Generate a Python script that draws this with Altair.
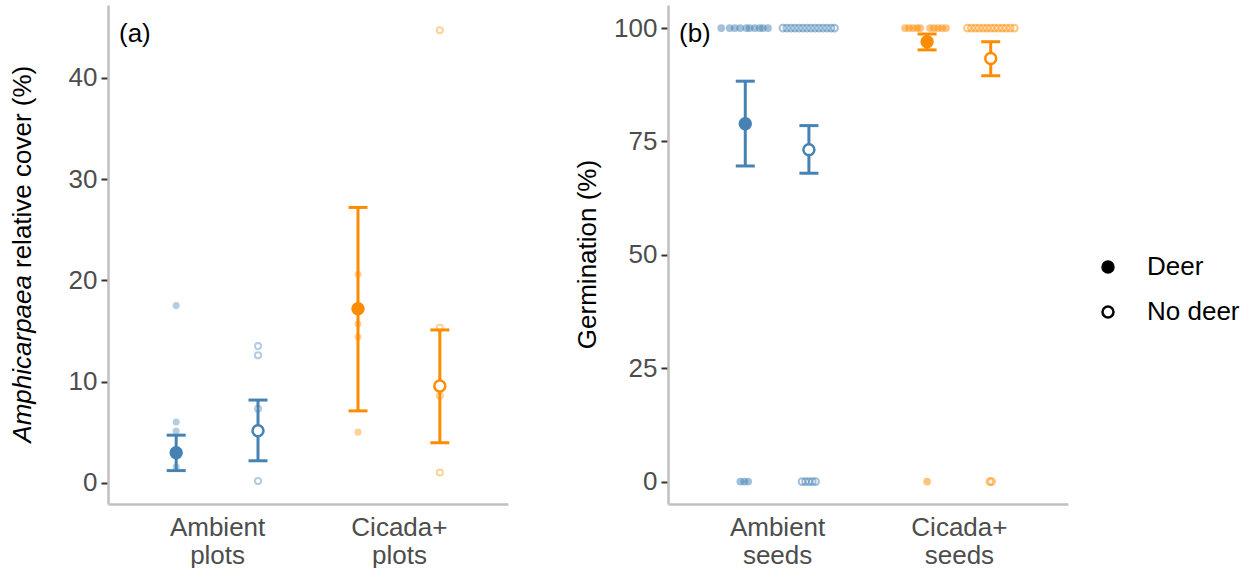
import altair as alt
import pandas as pd

# ---------------- data ----------------
groups = ["Ambient", "Cicada+"]
treatments = ["Deer", "No deer"]
group_colors = {"Ambient": "#4682B4", "Cicada+": "#FF8C00"}

# Panel (a): Amphicarpaea relative cover (%) raw plot values
a_raw_amb_deer = [17.5, 6.0, 5.1, 1.55]
a_raw_amb_nodeer = [13.5, 12.6, 7.3, 0.17]
a_raw_cic_deer = [20.6, 15.7, 14.4, 5.0]
a_raw_cic_nodeer = [44.7, 15.3, 8.6, 1.0]

# Panel (a) estimates: order Ambient-Deer, Ambient-No deer, Cicada-Deer, Cicada-No deer
a_mean = [2.96, 5.14, 17.2, 9.55]
a_lo = [1.2, 2.17, 7.1, 3.95]
a_hi = [4.7, 8.17, 27.2, 15.1]

# Panel (b): germination (%) estimates
b_mean = [78.9, 73.2, 97.0, 93.3]
b_lo = [69.6, 68.0, 95.2, 89.5]
b_hi = [88.3, 78.5, 98.7, 97.0]

# Panel (b) raw seeds: germinated (100) or not (0); horizontal jitter
b_jit_amb_deer_100 = [-0.132, -0.086, -0.058, -0.028, 0.006, 0.024, 0.052, 0.079, 0.097, 0.125]
b_jit_amb_deer_0 = [-0.027, -0.005, 0.016]
b_jit_amb_nodeer_100 = [-0.143, -0.121, -0.099, -0.077, -0.055, -0.033, -0.011, 0.011,
                        0.033, 0.055, 0.077, 0.099, 0.121, 0.141]
b_jit_amb_nodeer_0 = [-0.038, -0.019, 0.0, 0.019, 0.037]
b_jit_cic_deer_100 = [-0.121, -0.099, -0.077, -0.055, -0.038, 0.016, 0.038, 0.060, 0.082, 0.104]
b_jit_cic_deer_0 = [0.0]
b_jit_cic_nodeer_100 = [-0.128, -0.107, -0.085, -0.064, -0.042, -0.021, 0.0, 0.021,
                        0.042, 0.064, 0.085, 0.107, 0.13]
b_jit_cic_nodeer_0 = [-0.005, 0.005]

A_DODGE = 0.225
B_DODGE = 0.175

# ---------------- tables ----------------
def raw_rows(group, treat, values, jitters, dodge):
    gi = groups.index(group) + 1
    sgn = -1 if treat == "Deer" else 1
    rows = []
    for v, j in zip(values, jitters):
        rows.append({"x": gi + sgn * dodge + j, "y": v, "treat": treat,
                     "col": group_colors[group]})
    return rows

a_raw = pd.DataFrame(
    raw_rows("Ambient", "Deer", a_raw_amb_deer, [0] * 4, A_DODGE)
    + raw_rows("Ambient", "No deer", a_raw_amb_nodeer, [0] * 4, A_DODGE)
    + raw_rows("Cicada+", "Deer", a_raw_cic_deer, [0] * 4, A_DODGE)
    + raw_rows("Cicada+", "No deer", a_raw_cic_nodeer, [0] * 4, A_DODGE)
)

b_raw = pd.DataFrame(
    raw_rows("Ambient", "Deer", [100] * len(b_jit_amb_deer_100), b_jit_amb_deer_100, B_DODGE)
    + raw_rows("Ambient", "Deer", [0] * len(b_jit_amb_deer_0), b_jit_amb_deer_0, B_DODGE)
    + raw_rows("Ambient", "No deer", [100] * len(b_jit_amb_nodeer_100), b_jit_amb_nodeer_100, B_DODGE)
    + raw_rows("Ambient", "No deer", [0] * len(b_jit_amb_nodeer_0), b_jit_amb_nodeer_0, B_DODGE)
    + raw_rows("Cicada+", "Deer", [100] * len(b_jit_cic_deer_100), b_jit_cic_deer_100, B_DODGE)
    + raw_rows("Cicada+", "Deer", [0] * len(b_jit_cic_deer_0), b_jit_cic_deer_0, B_DODGE)
    + raw_rows("Cicada+", "No deer", [100] * len(b_jit_cic_nodeer_100), b_jit_cic_nodeer_100, B_DODGE)
    + raw_rows("Cicada+", "No deer", [0] * len(b_jit_cic_nodeer_0), b_jit_cic_nodeer_0, B_DODGE)
)


def summary_df(means, los, his, dodge):
    rows = []
    k = 0
    for g in groups:
        for t in treatments:
            gi = groups.index(g) + 1
            sgn = -1 if t == "Deer" else 1
            rows.append({"x": gi + sgn * dodge, "mean": means[k], "lo": los[k], "hi": his[k],
                         "col": group_colors[g],
                         "fillc": group_colors[g] if t == "Deer" else "white"})
            k += 1
    return pd.DataFrame(rows)

a_sum = summary_df(a_mean, a_lo, a_hi, A_DODGE)
b_sum = summary_df(b_mean, b_lo, b_hi, B_DODGE)

# ---------------- styling ----------------
FONT = "Liberation Sans"
FS = 26
W, H = 400, 499


def make_panel(raw, summ, ydomain, yticks, xlabel2, tag, raw_opacity, raw_size):
    xs = alt.Scale(domain=[0.4, 2.6], nice=False, zero=False)
    ys = alt.Scale(domain=ydomain, nice=False, zero=False)
    xaxis = alt.Axis(values=[1, 2], title=None, grid=False, ticks=False,
                     labelExpr="datum.value == 1 ? ['Ambient', '%s'] : ['Cicada+', '%s']" % (xlabel2, xlabel2),
                     labelFontSize=FS, labelColor="#4D4D4D", labelFont=FONT,
                     labelPadding=10, labelLineHeight=28, labelBaseline="top",
                     domainColor="#C0C0C0", domainWidth=2.5)
    yaxis = alt.Axis(values=yticks, title=None, grid=False, ticks=True,
                     tickColor="#333333", tickWidth=2, tickSize=7,
                     labelFontSize=FS, labelColor="#4D4D4D", labelFont=FONT,
                     labelPadding=4, domainColor="#C0C0C0", domainWidth=2.5)
    X = alt.X("x:Q", scale=xs, axis=xaxis)

    filled_raw = alt.Chart(raw).transform_filter("datum.treat == 'Deer'").mark_circle(
        size=raw_size, opacity=raw_opacity).encode(
        x=X, y=alt.Y("y:Q", scale=ys, axis=yaxis),
        color=alt.Color("col:N", scale=None))
    open_raw = alt.Chart(raw).transform_filter("datum.treat == 'No deer'").mark_point(
        shape="circle", size=raw_size * 0.75, filled=False, strokeWidth=2, opacity=raw_opacity).encode(
        x=X, y=alt.Y("y:Q", scale=ys, axis=yaxis),
        stroke=alt.Stroke("col:N", scale=None))

    bars = alt.Chart(summ).mark_rule(strokeWidth=3).encode(
        x=X, y=alt.Y("lo:Q", scale=ys, axis=yaxis), y2="hi:Q",
        color=alt.Color("col:N", scale=None))
    cap_lo = alt.Chart(summ).mark_tick(orient="horizontal", size=19, thickness=3, opacity=1).encode(
        x=X, y=alt.Y("lo:Q", scale=ys, axis=yaxis), color=alt.Color("col:N", scale=None))
    cap_hi = alt.Chart(summ).mark_tick(orient="horizontal", size=19, thickness=3, opacity=1).encode(
        x=X, y=alt.Y("hi:Q", scale=ys, axis=yaxis), color=alt.Color("col:N", scale=None))
    means = alt.Chart(summ).mark_point(shape="circle", size=120, filled=True, strokeWidth=2.5,
                                       opacity=1, fillOpacity=1, strokeOpacity=1).encode(
        x=X, y=alt.Y("mean:Q", scale=ys, axis=yaxis),
        fill=alt.Fill("fillc:N", scale=None), stroke=alt.Stroke("col:N", scale=None))

    tag_txt = alt.Chart(pd.DataFrame({"t": [tag]})).mark_text(
        align="left", baseline="middle", font=FONT, fontSize=FS, color="black").encode(
        text="t:N", x=alt.value(11), y=alt.value(29))

    return [filled_raw, open_raw, bars, cap_lo, cap_hi, means, tag_txt]


a_layers = make_panel(a_raw, a_sum, [-2.1, 47.2], [0, 10, 20, 30, 40], "plots", "(a)", 0.4, 50)
b_layers = make_panel(b_raw, b_sum, [-4.95, 105.1], [0, 25, 50, 75, 100], "seeds", "(b)", 0.5, 60)

# y-axis title of panel (a): italic genus + plain remainder
title_df_a1 = pd.DataFrame({"t": ["Amphicarpaea"]})
title_df_a2 = pd.DataFrame({"t": ["relative cover (%)"]})
split_y = 270
a_title1 = alt.Chart(title_df_a1).mark_text(
    angle=270, align="right", baseline="middle", font=FONT, fontSize=FS,
    fontStyle="italic", color="black").encode(text="t:N", x=alt.value(-85), y=alt.value(split_y))
a_title2 = alt.Chart(title_df_a2).mark_text(
    angle=270, align="left", baseline="middle", font=FONT, fontSize=FS,
    color="black").encode(text="t:N", x=alt.value(-85), y=alt.value(split_y - 7))

b_title = alt.Chart(pd.DataFrame({"t": ["Germination (%)"]})).mark_text(
    angle=270, align="center", baseline="middle", font=FONT, fontSize=FS,
    color="black").encode(text="t:N", x=alt.value(-80), y=alt.value(H / 2))

# manual legend
leg_deer_pt = alt.Chart(pd.DataFrame({"t": ["Deer"]})).mark_point(
    shape="circle", size=120, filled=True, fill="black", stroke="black", strokeWidth=2.5,
    opacity=1).encode(x=alt.value(440), y=alt.value(262))
leg_nodeer_pt = alt.Chart(pd.DataFrame({"t": ["No deer"]})).mark_point(
    shape="circle", size=120, filled=True, fill="white", stroke="black", strokeWidth=2.5,
    opacity=1).encode(x=alt.value(440), y=alt.value(307))
leg_deer_txt = alt.Chart(pd.DataFrame({"t": [treatments[0]]})).mark_text(
    align="left", baseline="middle", font=FONT, fontSize=FS, color="black").encode(
    text="t:N", x=alt.value(479), y=alt.value(262))
leg_nodeer_txt = alt.Chart(pd.DataFrame({"t": [treatments[1]]})).mark_text(
    align="left", baseline="middle", font=FONT, fontSize=FS, color="black").encode(
    text="t:N", x=alt.value(479), y=alt.value(307))

panel_a = alt.layer(*a_layers, a_title1, a_title2).properties(width=W, height=H)
panel_b = alt.layer(*b_layers, b_title, leg_deer_pt, leg_nodeer_pt, leg_deer_txt,
                    leg_nodeer_txt).properties(width=W, height=H)

chart = alt.hconcat(panel_a, panel_b, spacing=67).properties(
    padding={"left": 9, "top": 5, "right": 0, "bottom": 0},
    background="white",
).configure(font=FONT, view=alt.ViewConfig(stroke=None))

chart.save("out.html", embed_options={"renderer": "svg", "actions": False})
